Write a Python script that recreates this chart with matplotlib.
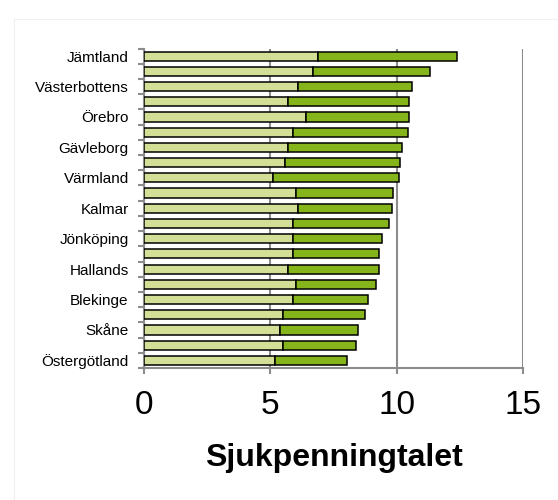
import matplotlib
matplotlib.use("Agg")
import matplotlib.pyplot as plt
import numpy as np
from matplotlib.patches import Rectangle

plt.rcParams["font.family"] = ["Liberation Sans", "DejaVu Sans"]

# län (only every other one labelled in the original)
LABELS = ["Jämtland", "", "Västerbottens", "", "Örebro", "", "Gävleborg", "",
          "Värmland", "", "Kalmar", "", "Jönköping", "", "Hallands", "",
          "Blekinge", "", "Skåne", "", "Östergötland"]
# first segment (light) and total (end of bar)
PART1 = [6.9, 6.7, 6.1, 5.7, 6.4, 5.9, 5.7, 5.6, 5.1, 6.0, 6.1,
         5.9, 5.9, 5.9, 5.7, 6.0, 5.9, 5.5, 5.4, 5.5, 5.2]
TOTAL = [12.38, 11.30, 10.60, 10.49, 10.48, 10.45, 10.20, 10.13, 10.08, 9.84, 9.80,
         9.68, 9.41, 9.32, 9.29, 9.17, 8.88, 8.74, 8.45, 8.41, 8.02]
XTICKS = [0, 5, 10, 15]

part1 = np.array(PART1)
part2 = np.array(TOTAL) - part1
y = np.arange(len(LABELS))

fig = plt.figure(figsize=(5.58, 5.0), dpi=100)
fig.patches.append(Rectangle((14 / 558, -0.1), 1.2, 1.1 - 19 / 500,
                             transform=fig.transFigure, fill=False,
                             edgecolor="#f0f0f0", lw=0.8, zorder=0))
ax = fig.add_axes([144 / 558, 1 - 368 / 500, (523 - 144) / 558, (368 - 48.5) / 500])

ax.barh(y, part1, height=0.6, color="#d3df96", edgecolor="black", lw=1.1, zorder=3)
ax.barh(y, part2, left=part1, height=0.6, color="#85b51a", edgecolor="black", lw=1.1, zorder=3)

ax.set_xlim(0, 15)
ax.set_ylim(len(LABELS) - 0.5, -0.5)
ax.set_xticks(XTICKS)
ax.set_xticklabels([str(t) for t in XTICKS], fontsize=24)
ax.tick_params(axis="x", length=4, width=1.5, color="#8c8c8c", pad=12)
ax.set_yticks(y)
ax.set_yticklabels(LABELS, fontsize=11)
ax.tick_params(axis="y", which="major", length=0, pad=11)
ax.set_yticks(np.arange(-0.5, len(LABELS)), minor=True)
ax.tick_params(axis="y", which="minor", length=4, width=1.5, color="#8c8c8c")

ax.xaxis.grid(True, color="#8c8c8c", lw=1.5, zorder=0)
ax.set_axisbelow(True)
for s in ["top", "right"]:
    ax.spines[s].set_visible(False)
for s in ["left", "bottom"]:
    ax.spines[s].set_color("#8c8c8c")
    ax.spines[s].set_linewidth(1.5)

ax.set_xlabel("Sjukpenningtalet", fontsize=23, fontweight="bold", labelpad=16)

fig.savefig("out.png", dpi=100)
